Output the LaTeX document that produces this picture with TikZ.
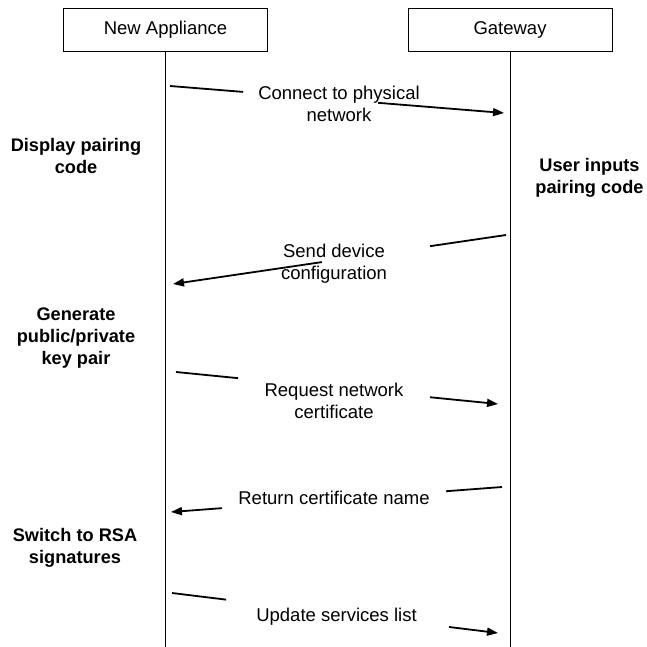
\documentclass[tikz,border=0pt]{standalone}
\usepackage{fontspec}
\setmainfont{Liberation Sans}
\usetikzlibrary{arrows.meta,calc}
\begin{document}
\begin{tikzpicture}[x=1pt,y=-1pt,
  actor/.style={draw,line width=0.9pt,minimum width=204pt,minimum height=43pt,inner sep=0pt,
    font=\fontsize{18.5}{22.2}\selectfont},
  lifeline/.style={line width=0.9pt},
  msg/.style={line width=1.8pt},
  msgtip/.style={line width=1.8pt,-{Triangle[length=11pt,width=8pt]}},
  msgtext/.style={align=center,inner sep=0pt,font=\fontsize{18.5}{22.2}\selectfont},
  note/.style={align=center,inner sep=0pt,font=\bfseries\fontsize{18.2}{22}\selectfont}]
\useasboundingbox (0,0) rectangle (646,647);

% participants and their lifelines
\node[actor] (app) at (165.5,29.5) {New Appliance};
\node[actor] (gw) at (510,29.5) {Gateway};
\coordinate (append) at (165.5,647);
\coordinate (gwend) at (510,647);
\draw[lifeline] (app.south) -- (append);
\draw[lifeline] (gw.south) -- (gwend);

% message 1: appliance -> gateway
\coordinate (m1s) at (170,86);
\coordinate (m1e) at (504,113);
\draw[msg] (m1s) -- ($(m1s)!0.219!(m1e)$);
\draw[msgtip] ($(m1s)!0.623!(m1e)$) -- (m1e);
\node[msgtext] (t1) at (339,104) {Connect to physical\\network};

% message 2: gateway -> appliance
\coordinate (m2s) at (506,235);
\coordinate (m2e) at (173,284);
\draw[msg] (m2s) -- ($(m2s)!0.228!(m2e)$);
\draw[msgtip] ($(m2s)!0.553!(m2e)$) -- (m2e);
\node[msgtext] (t2) at (334,264) {Send device\\configuration};

% message 3: appliance -> gateway
\coordinate (m3s) at (176,372);
\coordinate (m3e) at (498,404);
\draw[msg] (m3s) -- ($(m3s)!0.193!(m3e)$);
\draw[msgtip] ($(m3s)!0.789!(m3e)$) -- (m3e);
\node[msgtext] (t3) at (334,401) {Request network\\certificate};

% message 4: gateway -> appliance
\coordinate (m4s) at (502,487);
\coordinate (m4e) at (171,512);
\draw[msg] (m4s) -- ($(m4s)!0.169!(m4e)$);
\draw[msgtip] ($(m4s)!0.846!(m4e)$) -- (m4e);
\node[msgtext] (t4) at (334,498) {Return certificate name};

% message 5: appliance -> gateway
\coordinate (m5s) at (172,593);
\coordinate (m5e) at (498,633);
\draw[msg] (m5s) -- ($(m5s)!0.166!(m5e)$);
\draw[msgtip] ($(m5s)!0.850!(m5e)$) -- (m5e);
\node[msgtext] (t5) at (336.5,617) {Update services list};

% local actions
\node[note] (n1) at (76,156) {Display pairing\\code};
\node[note] (n2) at (589.5,178) {User inputs\\pairing code};
\node[note] (n3) at (76,338) {Generate\\public/private\\key pair};
\node[note] (n4) at (75,548) {Switch to RSA\\signatures};
\end{tikzpicture}
\end{document}
